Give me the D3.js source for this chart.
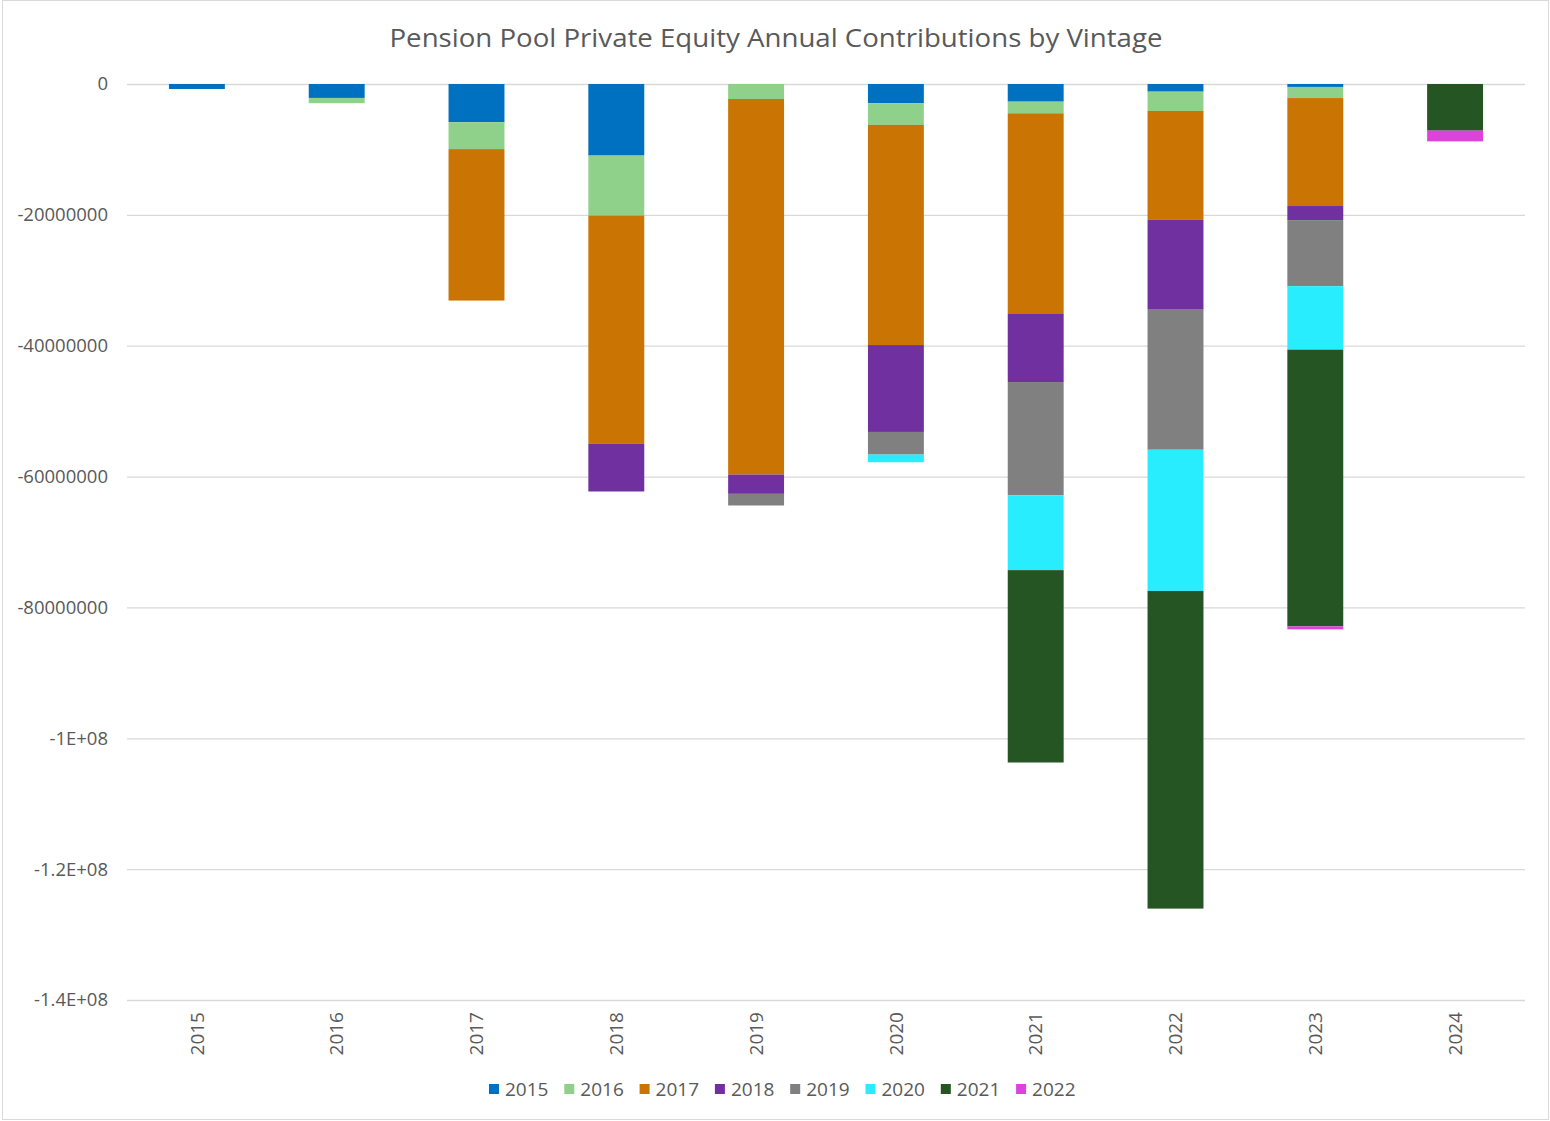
<!DOCTYPE html>
<html lang="en">
	<head>
		<meta charset="UTF-8" />
		<title>Pension Pool Private Equity Annual Contributions by Vintage</title>
		<script src="https://cdn.jsdelivr.net/npm/d3@7/dist/d3.min.js"></script>
		<style>
			body {
				margin: 0;
				background: #fff;
			}
			svg text {
				font-family: "Open Sans", "Noto Sans", sans-serif;
				fill: #595959;
			}
		</style>
	</head>
	<body>
		<svg id="svg"></svg>
	</body>

	<script>
		// categories on the x axis
		const years = ["2015", "2016", "2017", "2018", "2019", "2020", "2021", "2022", "2023", "2024"];
		// vintages = stacked series
		const vintages = ["2015", "2016", "2017", "2018", "2019", "2020", "2021", "2022"];
		const colors = ["#0070C0", "#8FD18A", "#C97403", "#7030A0", "#808080", "#28EDFF", "#245522", "#DD42DB"];

		// contributions per vintage, one value per year
		const v2015 = [-760000, -2130000, -5840000, -10940000, 0, -2950000, -2700000, -1170000, -450000, 0];
		const v2016 = [0, -800000, -4110000, -9160000, -2290000, -3310000, -1780000, -2950000, -1700000, 0];
		const v2017 = [0, 0, -23150000, -34900000, -57400000, -33640000, -30580000, -16640000, -16500000, 0];
		const v2018 = [0, 0, 0, -7280000, -2950000, -13280000, -10490000, -13740000, -2150000, 0];
		const v2019 = [0, 0, 0, 0, -1780000, -3460000, -17300000, -21400000, -10100000, 0];
		const v2020 = [0, 0, 0, 0, 0, -1170000, -11450000, -21580000, -9700000, 0];
		const v2021 = [0, 0, 0, 0, 0, 0, -29400000, -48550000, -42300000, -7130000];
		const v2022 = [0, 0, 0, 0, 0, 0, 0, 0, -450000, -1640000];

		const yTicks = [0, -20000000, -40000000, -60000000, -80000000, -100000000, -120000000, -140000000];

		const width = 1550;
		const height = 1121;
		const plot = { left: 127, right: 1525, top: 84, bottom: 1000 };

		const svg = d3.select("#svg").attr("width", width).attr("height", height);

		// chart border
		svg.append("rect")
			.attr("x", 2.5)
			.attr("y", 0.5)
			.attr("width", 1546)
			.attr("height", 1119)
			.attr("fill", "#fff")
			.attr("stroke", "#d9d9d9");

		// build rows for d3.stack
		const seriesValues = [v2015, v2016, v2017, v2018, v2019, v2020, v2021, v2022];
		const rows = years.map((y, i) => {
			const r = { year: y };
			vintages.forEach((v, j) => (r[v] = seriesValues[j][i]));
			return r;
		});

		const stacked = d3.stack().keys(vintages).offset(d3.stackOffsetDiverging)(rows);

		const x = d3.scaleBand().domain(years).range([plot.left, plot.right]).paddingInner(0.6).paddingOuter(0.3);
		const y = d3.scaleLinear().domain([-140000000, 0]).range([plot.bottom, plot.top]);

		const fmt = (v) => {
			if (v === 0) return "0";
			if (Math.abs(v) < 1e8) return String(v);
			return v / 1e8 + "E+08";
		};

		// y axis: grid lines + labels
		const yAxis = svg.append("g")
			.attr("transform", `translate(${plot.left},0)`)
			.call(d3.axisLeft(y).tickValues(yTicks).tickFormat(fmt).tickSize(-(plot.right - plot.left)).tickPadding(19));
		yAxis.select(".domain").remove();
		yAxis.selectAll(".tick line").attr("stroke", "#d9d9d9").attr("stroke-width", 1.3);
		yAxis.selectAll(".tick text").style("font-size", "18.5px").attr("fill", "#595959");

		// bars
		svg.append("g")
			.selectAll("g")
			.data(stacked)
			.join("g")
			.attr("fill", (d, i) => colors[i])
			.selectAll("rect")
			.data((d) => d)
			.join("rect")
			.attr("x", (d) => x(d.data.year))
			.attr("width", x.bandwidth())
			.attr("y", (d) => y(Math.max(d[0], d[1])))
			.attr("height", (d) => Math.abs(y(d[0]) - y(d[1])));

		// x axis labels (rotated)
		const xAxis = svg.append("g")
			.attr("transform", `translate(0,${plot.bottom})`)
			.call(d3.axisBottom(x).tickSize(0).tickPadding(0));
		xAxis.select(".domain").remove();
		xAxis.selectAll(".tick text")
			.style("font-size", "19px")
			.attr("fill", "#595959")
			.attr("text-anchor", "end")
			.attr("dy", "0.35em")
			.attr("transform", "translate(0,12) rotate(-90)");

		// title
		svg.append("text")
			.attr("x", 776)
			.attr("y", 47)
			.attr("text-anchor", "middle")
			.attr("textLength", 773)
			.attr("lengthAdjust", "spacingAndGlyphs")
			.style("font-size", "26px")
			.text("Pension Pool Private Equity Annual Contributions by Vintage");

		// legend
		const legend = svg.append("g")
			.selectAll("g")
			.data(vintages)
			.join("g")
			.attr("transform", (d, i) => `translate(${489 + i * 75.3},1084)`);
		legend.append("rect")
			.attr("width", 10)
			.attr("height", 10)
			.attr("fill", (d, i) => colors[i]);
		legend.append("text")
			.attr("x", 16)
			.attr("y", 5)
			.attr("dy", "0.35em")
			.style("font-size", "19px")
			.text((d) => d);
	</script>
</html>
